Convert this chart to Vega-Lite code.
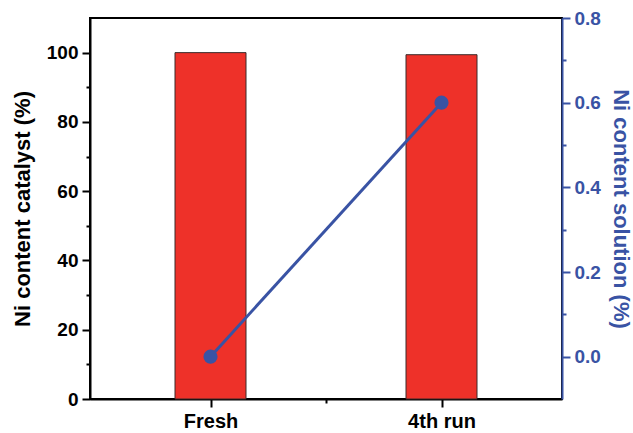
{
  "$schema": "https://vega.github.io/schema/vega-lite/v6.json",
  "width": 472,
  "height": 381,
  "autosize": "none",
  "padding": {"left": 90, "top": 18, "right": 71, "bottom": 34},
  "background": "white",
  "config": {
    "view": {"stroke": "black", "strokeWidth": 2},
    "axis": {
      "grid": false,
      "domainColor": "black",
      "domainWidth": 2,
      "tickColor": "black",
      "tickWidth": 2,
      "labelFont": "Liberation Sans",
      "labelFontWeight": "bold",
      "labelColor": "black",
      "titleFont": "Liberation Sans",
      "titleFontWeight": "bold",
      "titleColor": "black"
    }
  },
  "data": {
    "values": [
      {"run": "Fresh", "pos": 1, "catalyst": 100, "solution": 0.0},
      {"run": "4th run", "pos": 2, "catalyst": 99.4, "solution": 0.6}
    ]
  },
  "layer": [
    {
      "mark": {"type": "bar", "size": 71, "fill": "#EE3129", "stroke": "#3a2a2a", "strokeWidth": 1},
      "encoding": {
        "x": {
          "field": "pos",
          "type": "quantitative",
          "scale": {"domain": [0.5, 2.5], "nice": false, "zero": false},
          "axis": {
            "title": null,
            "values": [1, 1.5, 2],
            "labelExpr": "datum.value == 1 ? 'Fresh' : (datum.value == 2 ? '4th run' : '')",
            "labelFontSize": 20,
            "labelPadding": 4,
            "tickSize": {"condition": {"test": "datum.value == 1.5", "value": 4}, "value": 8}
          }
        },
        "y": {
          "field": "catalyst",
          "type": "quantitative",
          "scale": {"domain": [0, 110], "nice": false},
          "axis": {
            "title": "Ni content catalyst (%)",
            "titleFontSize": 22,
            "titlePadding": 12,
            "values": [0, 10, 20, 30, 40, 50, 60, 70, 80, 90, 100],
            "labelExpr": "datum.value % 20 ? '' : datum.label",
            "labelFontSize": 19,
            "labelPadding": 4,
            "tickSize": {"condition": {"test": "datum.value % 20 != 0", "value": 4}, "value": 8}
          }
        }
      }
    },
    {
      "encoding": {
        "x": {"field": "pos", "type": "quantitative"},
        "y": {
          "field": "solution",
          "type": "quantitative",
          "scale": {"domain": [-0.1, 0.8], "nice": false, "zero": false},
          "axis": {
            "orient": "right",
            "title": "Ni content solution (%)",
            "titleFontSize": 22,
            "titleColor": "#3953A4",
            "titlePadding": 8,
            "domainColor": "#3953A4",
            "tickColor": "#3953A4",
            "labelColor": "#3953A4",
            "values": [0, 0.1, 0.2, 0.3, 0.4, 0.5, 0.6, 0.7, 0.8],
            "labelExpr": "round(datum.value * 10) % 2 ? '' : format(datum.value, '.1f')",
            "labelFontSize": 19,
            "labelPadding": 4,
            "tickSize": {"condition": {"test": "round(datum.value * 10) % 2 != 0", "value": 4}, "value": 8}
          }
        }
      },
      "layer": [
        {"mark": {"type": "line", "color": "#3953A4", "strokeWidth": 3}},
        {"mark": {"type": "point", "filled": true, "color": "#3953A4", "size": 200, "opacity": 1}}
      ]
    }
  ],
  "resolve": {"scale": {"y": "independent"}}
}
